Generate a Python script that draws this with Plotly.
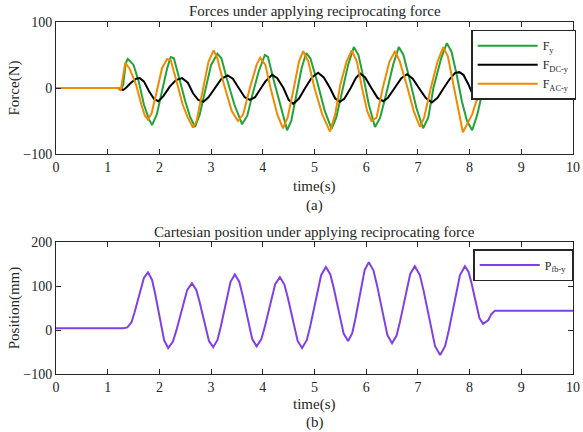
import plotly.graph_objects as go

# ---- top panel: forces ----
t_fy = [0, 1.2, 1.25, 1.3, 1.35, 1.39, 1.5, 1.6, 1.7, 1.8, 1.86, 1.95, 2.05, 2.15, 2.22, 2.28, 2.4, 2.5, 2.6, 2.69,
        2.78, 2.9, 3.0, 3.12, 3.2, 3.3, 3.45, 3.6, 3.7, 3.8, 3.92, 4.04, 4.1, 4.2, 4.35, 4.47, 4.55, 4.65, 4.75,
        4.84, 4.92, 5.05, 5.2, 5.33, 5.42, 5.55, 5.65, 5.76, 5.85, 5.95, 6.05, 6.17, 6.27, 6.4, 6.52, 6.63, 6.72,
        6.85, 6.97, 7.1, 7.2, 7.3, 7.45, 7.56, 7.65, 7.75, 7.85, 7.95, 8.05, 8.15, 8.25, 8.32, 8.45, 8.6, 10]
f_y = [0, 0, -3, 5, 38, 44, 35, 10, -25, -48, -56, -40, -5, 30, 47, 45, 10, -20, -45, -59,
       -40, 0, 35, 52, 45, 15, -25, -55, -42, -10, 25, 50, 47, 15, -30, -64, -50, -10, 30,
       53, 45, 10, -35, -62, -45, 0, 35, 62, 50, 15, -25, -59, -45, -5, 35, 62, 50,
       10, -30, -61, -45, 0, 45, 68, 55, 20, -20, -50, -64, -40, -5, 5, 1, 0, 0]

t_dc = [0, 1.2, 1.25, 1.3, 1.35, 1.45, 1.55, 1.62, 1.7, 1.8, 1.9, 1.98, 2.08, 2.2, 2.32, 2.44, 2.55, 2.65, 2.75,
        2.85, 2.95, 3.08, 3.2, 3.32, 3.42, 3.55, 3.65, 3.75, 3.85, 3.95, 4.05, 4.18, 4.28, 4.4, 4.5, 4.59, 4.7,
        4.82, 4.95, 5.07, 5.18, 5.3, 5.4, 5.49, 5.58, 5.7, 5.8, 5.88, 5.98, 6.1, 6.22, 6.33, 6.42, 6.55, 6.68,
        6.79, 6.9, 7.02, 7.15, 7.27, 7.38, 7.5, 7.62, 7.72, 7.8, 7.88, 7.98, 8.06, 8.14, 8.22, 8.3, 8.4, 8.5, 10]
f_dc = [0, 0, -2, -3, 0, 8, 14, 15, 10, -5, -17, -20, -12, 2, 12, 15, 8, -8, -18,
        -21, -14, 0, 14, 19, 14, -2, -14, -18, -14, -2, 10, 20, 15, 0, -18, -24, -16,
        0, 16, 23, 16, 0, -16, -21, -16, 0, 15, 22, 16, 0, -15, -20, -15, 0, 15,
        21, 14, 0, -15, -22, -15, 0, 14, 23, 24, 20, 5, -10, -18, -12, -5, -1, 0, 0]

t_ac = [0, 1.2, 1.25, 1.3, 1.34, 1.42, 1.55, 1.65, 1.72, 1.78, 1.85, 1.95, 2.05, 2.15, 2.22, 2.35, 2.45, 2.55,
        2.65, 2.72, 2.85, 2.95, 3.05, 3.12, 3.25, 3.4, 3.52, 3.62, 3.75, 3.88, 3.95, 4.05, 4.15, 4.28, 4.39,
        4.48, 4.6, 4.7, 4.78, 4.88, 5.0, 5.15, 5.3, 5.4, 5.5, 5.62, 5.72, 5.82, 5.92, 6.02, 6.1, 6.2, 6.32,
        6.45, 6.56, 6.65, 6.8, 6.92, 7.04, 7.12, 7.25, 7.38, 7.49, 7.58, 7.7, 7.8, 7.87, 7.95, 8.05, 8.15,
        8.25, 8.35, 8.5, 10]
f_ac = [0, 0, -4, 20, 38, 30, 5, -25, -42, -48, -38, -5, 30, 44, 42, 5, -25, -45,
        -60, -50, 0, 40, 57, 45, 5, -35, -50, -40, 0, 35, 46, 35, 0, -40, -61,
        -45, 0, 40, 56, 40, 0, -40, -66, -40, 5, 40, 57, 40, 0, -35, -50, -45, 0,
        40, 56, 40, 0, -35, -59, -45, 0, 40, 62, 48, 0, -40, -67, -55, -40, -15,
        5, 3, 0, 0]

# ---- bottom panel: position ----
t_pos = [0, 1.3, 1.38, 1.46, 1.52, 1.58, 1.64, 1.70, 1.78,
         1.858, 1.917, 1.975, 2.034, 2.092, 2.17,
         2.262, 2.331, 2.40, 2.469, 2.538, 2.63,
         2.712, 2.774, 2.835, 2.897, 2.958, 3.04,
         3.124, 3.187, 3.25, 3.313, 3.376, 3.46,
         3.544, 3.607, 3.67, 3.733, 3.796, 3.88,
         3.97, 4.038, 4.105, 4.173, 4.24, 4.33,
         4.416, 4.481, 4.545, 4.61, 4.674, 4.76,
         4.852, 4.921, 4.99, 5.059, 5.128, 5.22,
         5.306, 5.371, 5.435, 5.50, 5.564, 5.65,
         5.73, 5.79, 5.85, 5.91, 5.97, 6.05,
         6.14, 6.208, 6.275, 6.343, 6.41, 6.5,
         6.588, 6.654, 6.72, 6.786, 6.852, 6.94,
         7.038, 7.112, 7.185, 7.259, 7.332, 7.43,
         7.526, 7.598, 7.67, 7.742, 7.814, 7.91,
         7.98, 8.033, 8.085, 8.138, 8.19, 8.26,
         8.36, 8.42, 8.49, 10]
p_fb = [4, 4, 6, 17.6, 40.3, 68, 95.7, 118.4, 131,
        113.8, 82.8, 45, 7.2, -23.8, -41,
        -26.3, 0.2, 32.5, 64.8, 91.3, 106,
        91.5, 65.4, 33.5, 1.6, -24.5, -39,
        -22.5, 7.2, 43.5, 79.8, 109.5, 126,
        109.7, 80.4, 44.5, 8.6, -20.7, -37,
        -21.3, 7, 41.5, 76, 104.3, 120,
        103.9, 74.9, 39.5, 4.1, -24.9, -41,
        -22.6, 10.5, 51, 91.5, 124.6, 143,
        126.2, 96, 59, 22, -8.2, -25,
        -7.1, 25.1, 64.5, 103.9, 136.1, 154,
        135.6, 102.5, 62, 21.5, -11.6, -30,
        -12.5, 19, 57.5, 96, 127.5, 145,
        124.8, 88.4, 44, -0.4, -36.8, -57,
        -36.8, -0.4, 44, 88.4, 124.8, 145,
        131.9, 108.3, 79.5, 50.7, 27.1, 14,
        22, 36, 44, 44]

x_ticks = list(range(0, 11))
y1_ticks = [-100, 0, 100]
y2_ticks = [-100, 0, 100, 200]

GREEN = "#22a339"
BLACK = "#000000"
ORANGE = "#f08a00"
PURPLE = "#8040e6"
FONT = "Liberation Serif"
TXT = "#262626"

fig = go.Figure()
fig.add_trace(go.Scatter(x=t_fy, y=f_y, mode="lines", name="F<sub>y</sub>",
                         line=dict(color=GREEN, width=2), xaxis="x", yaxis="y", legend="legend"))
fig.add_trace(go.Scatter(x=t_dc, y=f_dc, mode="lines", name="F<sub>DC-y</sub>",
                         line=dict(color=BLACK, width=2), xaxis="x", yaxis="y", legend="legend"))
fig.add_trace(go.Scatter(x=t_ac, y=f_ac, mode="lines", name="F<sub>AC-y</sub>",
                         line=dict(color=ORANGE, width=2), xaxis="x", yaxis="y", legend="legend"))
fig.add_trace(go.Scatter(x=t_pos, y=p_fb, mode="lines", name="P<sub>fb-y</sub>",
                         line=dict(color=PURPLE, width=2), xaxis="x2", yaxis="y2", legend="legend2"))

axis_common = dict(showline=True, mirror="ticks", linecolor=TXT, linewidth=1,
                   ticks="inside", ticklen=5, tickcolor=TXT, showgrid=False, zeroline=False,
                   tickfont=dict(family=FONT, size=14, color=TXT))

fig.update_layout(
    width=583, height=432,
    margin=dict(l=56, r=10, t=22, b=58, autoexpand=False),
    paper_bgcolor="white", plot_bgcolor="white",
    font=dict(family=FONT, size=14, color=TXT),
    showlegend=True,
    xaxis=dict(domain=[0, 1], range=[0, 10], tickvals=x_ticks, anchor="y", **axis_common),
    yaxis=dict(domain=[0.625, 1], range=[-100, 100], tickvals=y1_ticks, anchor="x",
               title=dict(text="Force(N)", font=dict(family=FONT, size=15), standoff=0), **axis_common),
    xaxis2=dict(domain=[0, 1], range=[0, 10], tickvals=x_ticks, anchor="y2", **axis_common),
    yaxis2=dict(domain=[0, 0.375], range=[-100, 200], tickvals=y2_ticks, anchor="x2",
                title=dict(text="Position(mm)", font=dict(family=FONT, size=15), standoff=0), **axis_common),
    legend=dict(x=0.803, y=0.978, xanchor="left", yanchor="top", bgcolor="white",
                bordercolor=TXT, borderwidth=1.5, itemwidth=60,
                font=dict(family=FONT, size=12, color=TXT), tracegroupgap=0),
    legend2=dict(x=0.807, y=0.355, xanchor="left", yanchor="top", bgcolor="white",
                 bordercolor=TXT, borderwidth=1.5, itemwidth=60,
                 font=dict(family=FONT, size=12, color=TXT)),
    annotations=[
        dict(text="Forces under applying reciprocating force", x=0.5, y=1.03, xref="paper", yref="paper",
             showarrow=False, font=dict(family=FONT, size=15, color=TXT), yanchor="middle"),
        dict(text="time(s)", x=0.5, y=0.534, xref="paper", yref="paper",
             showarrow=False, font=dict(family=FONT, size=15, color=TXT), yanchor="middle"),
        dict(text="(a)", x=0.5, y=0.48, xref="paper", yref="paper",
             showarrow=False, font=dict(family=FONT, size=15, color=TXT), yanchor="middle"),
        dict(text="Cartesian position under applying reciprocating force", x=0.5, y=0.403, xref="paper",
             yref="paper", showarrow=False, font=dict(family=FONT, size=15, color=TXT), yanchor="middle"),
        dict(text="time(s)", x=0.5, y=-0.088, xref="paper", yref="paper",
             showarrow=False, font=dict(family=FONT, size=15, color=TXT), yanchor="middle"),
        dict(text="(b)", x=0.5, y=-0.139, xref="paper", yref="paper",
             showarrow=False, font=dict(family=FONT, size=15, color=TXT), yanchor="middle"),
    ],
)

fig.write_html("out.html", config={"displayModeBar": False},
               post_script="document.body.style.margin='0px';")
